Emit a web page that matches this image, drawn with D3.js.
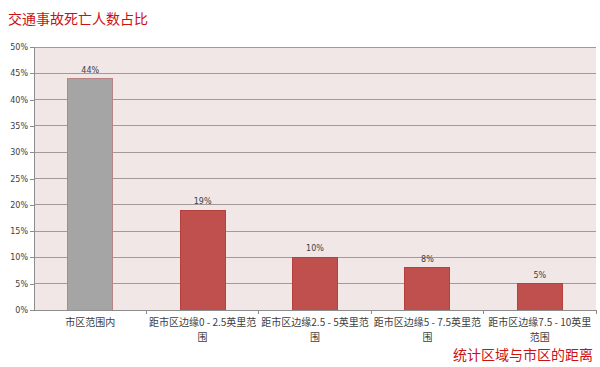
<!DOCTYPE html>
<meta charset="utf-8">
<head>
  <style>
    html, body { margin: 0; padding: 0; background: #fff; }
    body { font-family: "Noto Sans CJK SC", "DejaVu Sans", sans-serif; }
  </style>
  <script src="https://d3js.org/d3.v7.min.js"></script>
</head>
<body>
  <div id="my_dataviz"></div>
  <script>
    // data ("\n" = where the label breaks in the original)
    const categories = ["市区范围内", "距市区边缘0 - 2.5英里范\n围", "距市区边缘2.5 - 5英里范\n围", "距市区边缘5 - 7.5英里范\n围", "距市区边缘7.5 - 10英里\n范围"];
    const values = [44, 19, 10, 8, 5];
    const barColors = ["#A5A5A5", "#C0504D", "#C0504D", "#C0504D", "#C0504D"];
    const yTicks = [0, 5, 10, 15, 20, 25, 30, 35, 40, 45, 50];
    const title = "交通事故死亡人数占比";
    const xTitle = "统计区域与市区的距离";

    const W = 600, H = 367;
    const margin = { top: 47, right: 4, bottom: 57, left: 34 },
      width = W - margin.left - margin.right,
      height = H - margin.top - margin.bottom;

    const root = d3.select("#my_dataviz").append("svg")
      .attr("width", W).attr("height", H);

    const svg = root.append("g")
      .attr("transform", `translate(${margin.left},${margin.top})`);

    // plot area background
    svg.append("rect")
      .attr("width", width).attr("height", height)
      .attr("fill", "#F2E7E7");

    const x = d3.scaleBand().domain(categories).range([0, width]).paddingInner(0.6).paddingOuter(0.3);
    const xOuter = d3.scaleBand().domain(categories).range([0, width]);
    const y = d3.scaleLinear().domain([0, 50]).range([height, 0]);

    // gridlines
    svg.append("g")
      .selectAll("line")
      .data(yTicks.filter(d => d > 0))
      .join("line")
      .attr("x1", 0).attr("x2", width)
      .attr("y1", d => y(d)).attr("y2", d => y(d))
      .attr("stroke", "#A09A9A").attr("stroke-width", 1)
      .attr("shape-rendering", "crispEdges");

    // y axis
    const yAxis = svg.append("g")
      .call(d3.axisLeft(y).tickValues(yTicks).tickSize(4).tickFormat(d => d + "%"));
    yAxis.selectAll("path, line").attr("stroke", "#8C8C8C").attr("shape-rendering", "crispEdges");
    yAxis.selectAll("text").attr("fill", "#404040").style("font-family", "'DejaVu Sans', sans-serif").style("font-size", "8px").attr("x", -6);

    // bars
    svg.selectAll(".bar")
      .data(values)
      .join("rect")
      .attr("class", "bar")
      .attr("x", (d, i) => x(categories[i]))
      .attr("y", d => y(d))
      .attr("width", x.bandwidth())
      .attr("height", d => height - y(d))
      .attr("fill", (d, i) => barColors[i])
      .attr("stroke", (d, i) => i === 0 ? "#B98283" : "#B5403D")
      .attr("stroke-width", 1)
      .attr("shape-rendering", "crispEdges");

    // value labels
    svg.selectAll(".val")
      .data(values)
      .join("text")
      .attr("class", "val")
      .attr("x", (d, i) => x(categories[i]) + x.bandwidth() / 2)
      .attr("y", d => y(d) - 6)
      .attr("text-anchor", "middle")
      .attr("fill", "#404040")
      .style("font-family", "'DejaVu Sans', sans-serif")
      .style("font-size", "8px")
      .text(d => d + "%");

    // x axis
    const xAxis = svg.append("g")
      .attr("transform", `translate(0,${height})`)
      .call(d3.axisBottom(xOuter).tickSize(0).tickFormat(""));
    xAxis.select(".domain").attr("stroke", "#8C8C8C").attr("shape-rendering", "crispEdges");
    xAxis.selectAll(".tick").remove();
    xAxis.selectAll(".sep")
      .data(categories)
      .join("line")
      .attr("class", "sep")
      .attr("x1", d => xOuter(d) + xOuter.bandwidth())
      .attr("x2", d => xOuter(d) + xOuter.bandwidth())
      .attr("y1", 0).attr("y2", 4)
      .attr("stroke", "#8C8C8C")
      .attr("shape-rendering", "crispEdges");

    // category labels
    const labels = svg.append("g").attr("transform", `translate(0,${height})`);
    labels.selectAll("text")
      .data(categories)
      .join("text")
      .attr("text-anchor", "middle")
      .attr("fill", "#404040")
      .style("font-size", "10px")
      .each(function (c) {
        const cx = xOuter(c) + xOuter.bandwidth() / 2;
        d3.select(this).selectAll("tspan")
          .data(c.split("\n"))
          .join("tspan")
          .attr("x", cx)
          .attr("y", (d, i) => 16 + i * 14.6)
          .text(d => d);
      });

    // titles
    root.append("text")
      .attr("x", 8).attr("y", 24)
      .attr("fill", "#CC1111")
      .style("font-size", "14px")
      .text(title);

    root.append("text")
      .attr("x", 593).attr("y", 360)
      .attr("text-anchor", "end")
      .attr("fill", "#CC1111")
      .style("font-size", "14px")
      .text(xTitle);
  </script>
</body>
